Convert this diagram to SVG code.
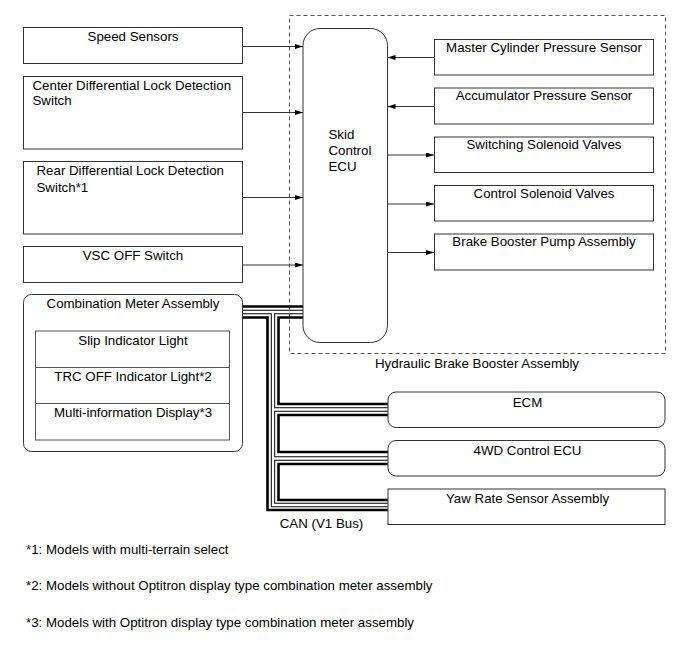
<svg xmlns="http://www.w3.org/2000/svg" width="691" height="660" viewBox="0 0 691 660">
<defs>
<marker id="ah" markerUnits="userSpaceOnUse" markerWidth="9" markerHeight="6" refX="8" refY="2.5" orient="auto">
<path d="M0,0 L8,2.5 L0,5 z" fill="#000"/>
</marker>
<style>
text{font-family:"Liberation Sans",Arial,sans-serif;font-size:13.3px;fill:#000}
.c{text-anchor:middle}
.box{fill:#fff;stroke:#333;stroke-width:1}
.inner{fill:none;stroke:#555;stroke-width:1}
.arr{fill:none;stroke:#333;stroke-width:1;marker-end:url(#ah)}
.blk{fill:none;stroke:#000;stroke-width:2.6;stroke-linejoin:miter}
.wo{fill:none;stroke:#000;stroke-width:4.4;stroke-linejoin:miter}
.wi{fill:none;stroke:#fff;stroke-width:2.4;stroke-linejoin:miter}
</style>
</defs>
<rect width="691" height="660" fill="#fff"/>

<g id="hydraulic-brake-booster-assembly">
<rect x="289.5" y="15.5" width="376" height="338" fill="none" stroke="#555" stroke-width="1" stroke-dasharray="4,3"/>
<text class="c" x="477" y="368">Hydraulic Brake Booster Assembly</text>
</g>

<g id="connectors">
<line class="arr" x1="242" y1="46.5" x2="303" y2="46.5"/>
<line class="arr" x1="242" y1="112.5" x2="303" y2="112.5"/>
<line class="arr" x1="242" y1="197.5" x2="303" y2="197.5"/>
<line class="arr" x1="242" y1="265" x2="303" y2="265"/>
<line class="arr" x1="434" y1="57.5" x2="387.5" y2="57.5"/>
<line class="arr" x1="434" y1="106.5" x2="387.5" y2="106.5"/>
<line class="arr" x1="387" y1="155" x2="434" y2="155"/>
<line class="arr" x1="387" y1="204" x2="434" y2="204"/>
<line class="arr" x1="387" y1="252.5" x2="434" y2="252.5"/>
<g id="can-bus">
<path class="wo" d="M242,312 H303 M273,312 V505 H388 M273,409.5 H388 M273,458.5 H388"/>
<path class="wi" d="M242,312 H303 M273,312 V505 H388 M273,409.5 H388 M273,458.5 H388"/>
<path class="blk" d="M242,306.5 H303"/>
<path class="blk" d="M242,317.5 H267.5 V510 H388"/>
<path class="blk" d="M303,317.5 H278.5 V404 H388"/>
<path class="blk" d="M388,415 H278.5 V452 H388"/>
<path class="blk" d="M388,464 H278.5 V500 H388"/>
</g>
</g>

<g id="speed-sensors">
<rect class="box" x="23.5" y="27.5" width="219" height="36"/>
<text class="c" x="133" y="41">Speed Sensors</text>
</g>
<g id="center-differential-lock-detection-switch">
<rect class="box" x="23.5" y="76.5" width="219" height="72.5"/>
<text x="32.5" y="89.5">Center Differential Lock Detection</text>
<text x="32.5" y="105">Switch</text>
</g>
<g id="rear-differential-lock-detection-switch">
<rect class="box" x="23.5" y="161.5" width="219" height="72.5"/>
<text x="36.5" y="175">Rear Differential Lock Detection</text>
<text x="36.5" y="191.5">Switch*1</text>
</g>
<g id="vsc-off-switch">
<rect class="box" x="23.5" y="246.5" width="219" height="36"/>
<text class="c" x="133" y="259.5">VSC OFF Switch</text>
</g>
<g id="combination-meter-assembly">
<rect class="box" x="23.5" y="294.5" width="219" height="157" rx="8"/>
<text class="c" x="133" y="308">Combination Meter Assembly</text>
<rect class="inner" x="35.5" y="331" width="194" height="109"/>
<line class="inner" x1="35.5" y1="367.5" x2="229.5" y2="367.5"/>
<line class="inner" x1="35.5" y1="403.5" x2="229.5" y2="403.5"/>
<text class="c" x="133" y="344.5">Slip Indicator Light</text>
<text class="c" x="133" y="381">TRC OFF Indicator Light*2</text>
<text class="c" x="133" y="417">Multi-information Display*3</text>
</g>

<g id="skid-control-ecu">
<rect class="box" x="303" y="28.5" width="84.5" height="314" rx="17"/>
<text x="328.5" y="138.5">Skid</text>
<text x="328.5" y="155">Control</text>
<text x="328.5" y="171">ECU</text>
</g>

<g id="master-cylinder-pressure-sensor">
<rect class="box" x="434.5" y="39.5" width="219" height="35.5"/>
<text class="c" x="544" y="52">Master Cylinder Pressure Sensor</text>
</g>
<g id="accumulator-pressure-sensor">
<rect class="box" x="434.5" y="88" width="219" height="36"/>
<text class="c" x="544" y="100">Accumulator Pressure Sensor</text>
</g>
<g id="switching-solenoid-valves">
<rect class="box" x="434.5" y="137" width="219" height="35.5"/>
<text class="c" x="544" y="149">Switching Solenoid Valves</text>
</g>
<g id="control-solenoid-valves">
<rect class="box" x="434.5" y="185.5" width="219" height="35.5"/>
<text class="c" x="544" y="197.5">Control Solenoid Valves</text>
</g>
<g id="brake-booster-pump-assembly">
<rect class="box" x="434.5" y="234" width="219" height="36"/>
<text class="c" x="544" y="246">Brake Booster Pump Assembly</text>
</g>

<g id="ecm">
<rect class="box" x="388" y="392" width="277" height="35.5" rx="8"/>
<text class="c" x="527.5" y="407">ECM</text>
</g>
<g id="4wd-control-ecu">
<rect class="box" x="388" y="440.5" width="277" height="35.5" rx="8"/>
<text class="c" x="527.5" y="454.5">4WD Control ECU</text>
</g>
<g id="yaw-rate-sensor-assembly">
<rect class="box" x="388" y="489" width="277" height="35.5"/>
<text class="c" x="527.5" y="503">Yaw Rate Sensor Assembly</text>
</g>

<text class="c" x="321.5" y="527.5">CAN (V1 Bus)</text>

<text x="26" y="553.5">*1: Models with multi-terrain select</text>
<text x="26" y="590">*2: Models without Optitron display type combination meter assembly</text>
<text x="26" y="627">*3: Models with Optitron display type combination meter assembly</text>
</svg>
